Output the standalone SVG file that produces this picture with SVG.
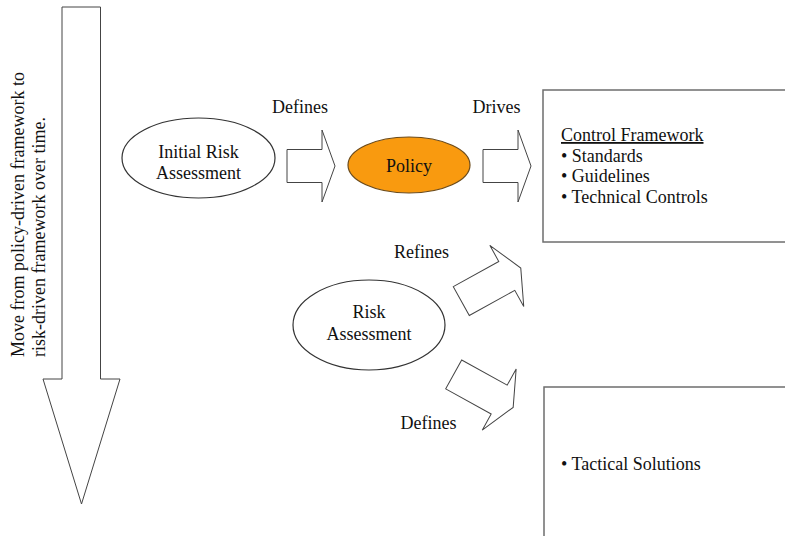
<svg xmlns="http://www.w3.org/2000/svg" width="785" height="536" viewBox="0 0 785 536">
  <style>
    .bg { fill: #ffffff; }
    .shape { fill: #ffffff; stroke: #444444; stroke-width: 1; }
    .ell { fill: #ffffff; stroke: #333333; stroke-width: 1.2; }
    .policy { fill: #F99A0F; stroke: #6b4a1a; stroke-width: 1.2; }
    .box { fill: #ffffff; stroke: #6e6e6e; stroke-width: 1.5; }
    .lbl { font-family: 'Liberation Serif', Tinos, 'Times New Roman', 'DejaVu Serif', serif; font-size: 18px; fill: #111111; }
    .mid { text-anchor: middle; }
  </style>
  <defs>
    <!-- block arrow pointing right, origin at the back-centre of the shaft -->
    <polygon id="blockArrow" points="0,-16.5 35,-16.5 35,-36 48,0 35,36 35,16.5 0,16.5"/>
    <polygon id="slantArrow" points="0,-16.5 52,-16.5 52,-35 68,0 52,35 52,16.5 0,16.5"/>
  </defs>

  <rect class="bg" x="0" y="0" width="785" height="536"/>

  <!-- time-line arrow down the left side -->
  <g id="timeline">
    <polygon class="shape" points="62,7 100.5,7 100.5,379 120,379 81.5,504 43,379 62,379"/>
    <g transform="translate(23.5,357) rotate(-90)">
      <text class="lbl" x="0" y="0">Move from policy-driven framework to</text>
      <text class="lbl" x="0" y="21.5">risk-driven framework over time.</text>
    </g>
  </g>

  <!-- connectors: block arrows and their labels -->
  <g id="connectors">
    <use href="#blockArrow" class="shape" transform="translate(287,166)"/>
    <text class="lbl mid" x="300" y="113">Defines</text>

    <use href="#blockArrow" class="shape" transform="translate(483,166)"/>
    <text class="lbl mid" x="496.5" y="113">Drives</text>

    <use href="#slantArrow" class="shape" transform="translate(461.3,301.1) rotate(-29)"/>
    <text class="lbl mid" x="421.5" y="258">Refines</text>

    <use href="#slantArrow" class="shape" transform="translate(453.7,374.4) rotate(29)"/>
    <text class="lbl mid" x="428.5" y="429">Defines</text>
  </g>

  <g id="initial-risk-assessment">
    <ellipse class="ell" cx="198.5" cy="158" rx="76.5" ry="40"/>
    <text class="lbl mid" x="198.5" y="158">Initial Risk</text>
    <text class="lbl mid" x="198.5" y="179">Assessment</text>
  </g>

  <g id="policy">
    <ellipse class="policy" cx="409" cy="165" rx="61" ry="28"/>
    <text class="lbl mid" x="409" y="172">Policy</text>
  </g>

  <g id="risk-assessment">
    <ellipse class="ell" cx="369" cy="325" rx="76" ry="45"/>
    <text class="lbl mid" x="369" y="318">Risk</text>
    <text class="lbl mid" x="369" y="340">Assessment</text>
  </g>

  <g id="control-framework">
    <rect class="box" x="543" y="90" width="260" height="152"/>
    <text class="lbl" x="561" y="141" text-decoration="underline">Control Framework</text>
    <text class="lbl" x="561" y="161.5">• Standards</text>
    <text class="lbl" x="561" y="182">• Guidelines</text>
    <text class="lbl" x="561" y="202.5">• Technical Controls</text>
  </g>

  <g id="tactical-solutions">
    <rect class="box" x="544" y="387" width="260" height="170"/>
    <text class="lbl" x="561" y="470">• Tactical Solutions</text>
  </g>
</svg>
